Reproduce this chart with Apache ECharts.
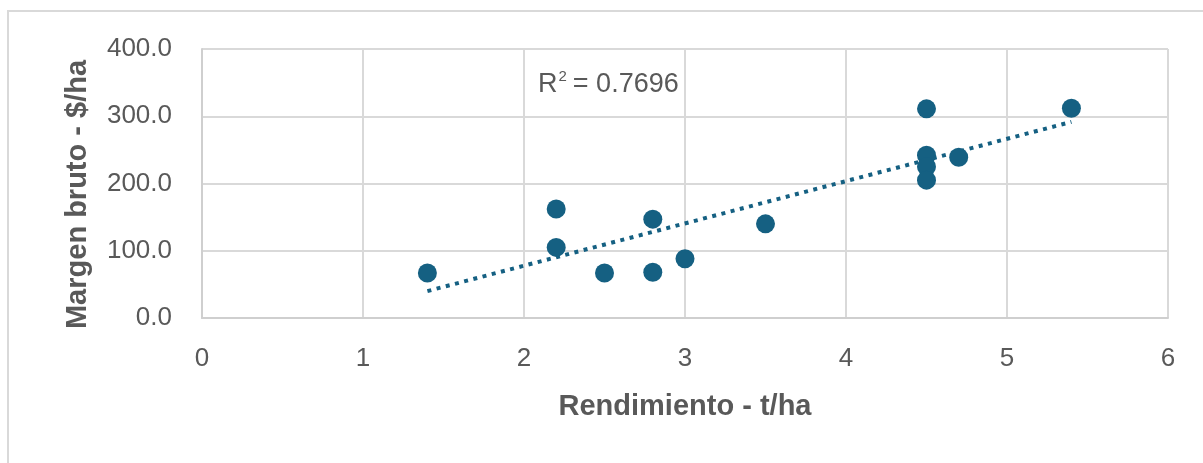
<!DOCTYPE html>
<html>
<head>
<meta charset="utf-8">
<title>Margen bruto vs Rendimiento</title>
<script src="https://cdn.jsdelivr.net/npm/echarts@6/dist/echarts.min.js"></script>
<style>
  html, body { margin: 0; padding: 0; background: #ffffff; }
  #chart { width: 1203px; height: 463px; }
</style>
</head>
<body>
<div id="chart"></div>
<script>
// Rendimiento (t/ha) and margen bruto ($/ha) for each plot
const rendimiento = [1.4, 2.2, 2.2, 2.5, 2.8, 2.8, 3.0, 3.5, 4.5, 4.5, 4.5, 4.5, 4.7, 5.4];
const margenBruto = [67, 162, 105, 67, 147, 68, 88, 140, 311, 242, 225, 205, 239, 312];
const xTicks = [0, 1, 2, 3, 4, 5, 6];
const yTicks = [0, 100, 200, 300, 400];
const r2Text = '0.7696';

const FONT = '"Liberation Sans", Arial, sans-serif';
const TEXT = '#595959';
const GRID = '#d9d9d9';
const MARK = '#156082';

// Least-squares linear trend over the observed range
function linearFit(xs, ys) {
  const n = xs.length;
  const mx = xs.reduce((a, b) => a + b, 0) / n;
  const my = ys.reduce((a, b) => a + b, 0) / n;
  let sxy = 0, sxx = 0;
  for (let i = 0; i < n; i++) {
    sxy += (xs[i] - mx) * (ys[i] - my);
    sxx += (xs[i] - mx) * (xs[i] - mx);
  }
  const slope = sxy / sxx;
  return { slope, intercept: my - slope * mx };
}
const fit = linearFit(rendimiento, margenBruto);
const xMin = Math.min(...rendimiento);
const xMax = Math.max(...rendimiento);
const trend = [xMin, xMax].map(x => [x, fit.intercept + fit.slope * x]);

const points = rendimiento.map((x, i) => [x, margenBruto[i]]);

const chart = echarts.init(document.getElementById('chart'), null, { renderer: 'canvas' });
chart.setOption({
  animation: false,
  backgroundColor: '#ffffff',
  textStyle: { fontFamily: FONT },
  grid: { left: 202, right: 35, top: 49, bottom: 145, containLabel: false },
  graphic: [
    {
      type: 'rect',
      shape: { x: 8, y: 11, width: 1400, height: 700 },
      style: { fill: 'none', stroke: GRID, lineWidth: 2 },
      silent: true
    },
    {
      type: 'text',
      left: 538,
      top: 69,
      style: {
        text: '{r|R}{s|2}{r|= ' + r2Text + '}',
        rich: {
          r: { fontFamily: FONT, fontSize: 27, fill: TEXT, verticalAlign: 'bottom', lineHeight: 29 },
          s: { fontFamily: FONT, fontSize: 15, fill: TEXT, verticalAlign: 'top', lineHeight: 29, padding: [0, 6, 12, 1] }
        }
      }
    }
  ],
  xAxis: {
    type: 'value',
    min: xTicks[0],
    max: xTicks[xTicks.length - 1],
    interval: 1,
    name: 'Rendimiento - t/ha',
    nameLocation: 'middle',
    nameGap: 74,
    nameTextStyle: { fontFamily: FONT, fontSize: 29, fontWeight: 'bold', color: TEXT },
    axisLine: { show: true, lineStyle: { color: '#cfcfcf', width: 2 } },
    axisTick: { show: false },
    axisLabel: { fontFamily: FONT, fontSize: 26, color: TEXT, margin: 28 },
    splitLine: { show: true, lineStyle: { color: GRID, width: 2 } }
  },
  yAxis: {
    type: 'value',
    min: yTicks[0],
    max: yTicks[yTicks.length - 1],
    interval: 100,
    name: 'Margen bruto - $/ha',
    nameLocation: 'middle',
    nameGap: 110,
    nameTextStyle: { fontFamily: FONT, fontSize: 29, fontWeight: 'bold', color: TEXT, padding: [0, 22, 0, 0] },
    axisLine: { show: true, lineStyle: { color: '#cfcfcf', width: 2 } },
    axisTick: { show: false },
    axisLabel: { fontFamily: FONT, fontSize: 26, color: TEXT, margin: 30, formatter: v => v.toFixed(1) },
    splitLine: { show: true, lineStyle: { color: GRID, width: 2 } }
  },
  series: [
    {
      name: 'Tendencia',
      type: 'line',
      data: trend,
      symbol: 'none',
      silent: true,
      z: 1,
      lineStyle: { color: MARK, width: 4, type: [4, 5.5], cap: 'butt' }
    },
    {
      name: 'Margen bruto',
      type: 'scatter',
      data: points,
      symbol: 'circle',
      symbolSize: 19,
      z: 2,
      itemStyle: { color: MARK, opacity: 1 }
    }
  ]
});
</script>
</body>
</html>
